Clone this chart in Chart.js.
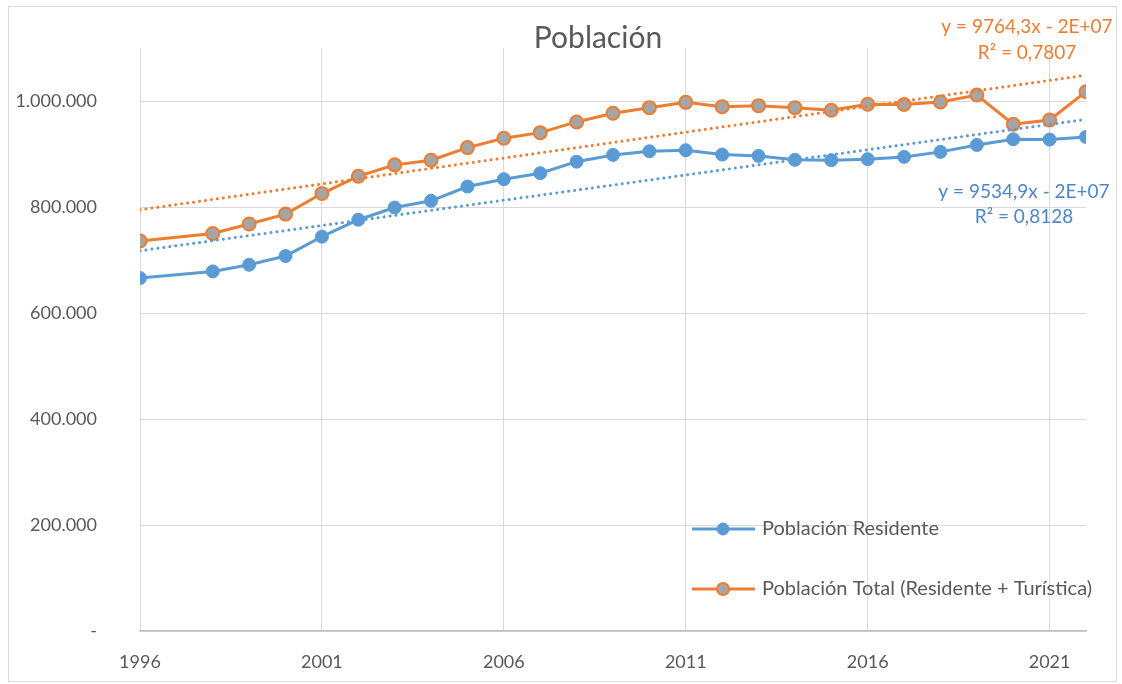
<!DOCTYPE html>
<html lang="es">
<head>
<meta charset="utf-8">
<title>Población</title>
<script src="https://cdn.jsdelivr.net/npm/chart.js@4.4.0/dist/chart.umd.min.js"></script>
<style>
	html, body { margin: 0; padding: 0; background: #fff; }
	#frame { position: absolute; left: 8px; top: 6px; width: 1109px; height: 676px; border: 1px solid #d9d9d9; box-sizing: border-box; }
	#wrap { position: absolute; left: 0; top: 0; width: 1122px; height: 684px; }
</style>
</head>
<body>
<div id="frame"></div>
<div id="wrap"><canvas id="poblacion" width="1122" height="684"></canvas></div>
<script>
	// Años con dato (1997 no tiene padrón)
	var years = [1996, 1998, 1999, 2000, 2001, 2002, 2003, 2004, 2005, 2006, 2007, 2008, 2009,
		2010, 2011, 2012, 2013, 2014, 2015, 2016, 2017, 2018, 2019, 2020, 2021, 2022];

	var residente = [666000, 678500, 691000, 707500, 744000, 776000, 799000, 811700, 838600,
		852500, 863800, 885500, 898300, 905200, 907100, 898900, 896400, 889000, 888300, 890200,
		894500, 904000, 917100, 927800, 927200, 932200];

	var total = [736000, 750000, 768000, 786600, 825400, 858000, 879500, 888300, 912100,
		929700, 940300, 960500, 976800, 987400, 997500, 989300, 991200, 987400, 982500, 993800,
		993500, 998100, 1011300, 956100, 964200, 1017500];

	var yearTicks = [1996, 2001, 2006, 2011, 2016, 2021];
	var valueTicks = [0, 200000, 400000, 600000, 800000, 1000000];

	// Líneas de tendencia (pendiente y R² de Excel)
	var slopeResidente = 9534.9;
	var slopeTotal = 9764.3;
	var eqResidente = ['y = 9534,9x - 2E+07', 'R² = 0,8128'];
	var eqTotal = ['y = 9764,3x - 2E+07', 'R² = 0,7807'];

	var BLUE = '#5B9BD5';
	var ORANGE = '#ED7D31';
	var GREY = '#A5A5A5';
	var TEXT = '#595959';
	var FONT = 'Lato, "Open Sans", sans-serif';

	function toPoints(values) {
		return years.map(function (yr, i) {
			return { x: yr, y: values[i] };
		});
	}

	// recta con la pendiente dada que pasa por el punto medio de la serie
	function trendPoints(values, slope) {
		var mx = 0, my = 0;
		for (var i = 0; i < years.length; i++) {
			mx += years[i];
			my += values[i];
		}
		mx /= years.length;
		my /= years.length;
		var x0 = years[0], x1 = years[years.length - 1];
		return [
			{ x: x0, y: my + slope * (x0 - mx) },
			{ x: x1, y: my + slope * (x1 - mx) },
		];
	}

	function fmtMiles(v) {
		if (v === 0) return '-';
		return String(v).replace(/\B(?=(\d{3})+(?!\d))/g, '.');
	}

	// Título, leyenda interior y ecuaciones de tendencia
	var extras = {
		id: 'extras',
		afterDraw: function (chart) {
			var ctx = chart.ctx;
			var area = chart.chartArea;
			ctx.save();

			ctx.fillStyle = TEXT;
			ctx.font = '30px ' + FONT;
			ctx.textAlign = 'center';
			ctx.textBaseline = 'middle';
			ctx.fillText('Población', 598, 38);

			// ecuaciones
			ctx.font = '19px ' + FONT;
			ctx.fillStyle = ORANGE;
			ctx.fillText(eqTotal[0], area.right - 59, 27);
			ctx.fillText(eqTotal[1], area.right - 59, 53);
			ctx.fillStyle = '#4F86C9';
			ctx.fillText(eqResidente[0], area.right - 62, 192);
			ctx.fillText(eqResidente[1], area.right - 62, 217);

			// leyenda
			var rows = [
				{ ds: chart.data.datasets[2], y: 529 },
				{ ds: chart.data.datasets[3], y: 589 },
			];
			var lx = 692;
			rows.forEach(function (r) {
				ctx.strokeStyle = r.ds.borderColor;
				ctx.lineWidth = 3;
				ctx.beginPath();
				ctx.moveTo(lx, r.y);
				ctx.lineTo(lx + 63, r.y);
				ctx.stroke();
				ctx.beginPath();
				ctx.arc(lx + 31, r.y, 6, 0, Math.PI * 2);
				ctx.fillStyle = r.ds.pointBackgroundColor;
				ctx.fill();
				ctx.lineWidth = r.ds.pointBorderWidth;
				ctx.strokeStyle = r.ds.pointBorderColor;
				ctx.stroke();
				ctx.fillStyle = TEXT;
				ctx.font = '20px ' + FONT;
				ctx.textAlign = 'left';
				ctx.fillText(r.ds.label, lx + 70, r.y);
			});
			ctx.restore();
		},
	};

	var ctx = document.getElementById('poblacion').getContext('2d');
	var chart = new Chart(ctx, {
		type: 'line',
		data: {
			datasets: [
				{
					label: 'Lineal (Población Total)',
					data: trendPoints(total, slopeTotal),
					borderColor: ORANGE,
					borderWidth: 3,
					borderDash: [0.01, 6],
					borderCapStyle: 'round',
					pointRadius: 0,
					order: 0,
				},
				{
					label: 'Lineal (Población Residente)',
					data: trendPoints(residente, slopeResidente),
					borderColor: BLUE,
					borderWidth: 3,
					borderDash: [0.01, 6],
					borderCapStyle: 'round',
					pointRadius: 0,
					order: 0,
				},
				{
					label: 'Población Residente',
					data: toPoints(residente),
					borderColor: BLUE,
					borderWidth: 3,
					pointRadius: 6.5,
					pointBackgroundColor: BLUE,
					pointBorderColor: BLUE,
					pointBorderWidth: 1,
					order: 2,
				},
				{
					label: 'Población Total (Residente + Turística)',
					data: toPoints(total),
					borderColor: ORANGE,
					borderWidth: 3,
					pointRadius: 6.5,
					pointBackgroundColor: GREY,
					pointBorderColor: ORANGE,
					pointBorderWidth: 2,
					order: 1,
				},
			],
		},
		options: {
			responsive: false,
			animation: false,
			layout: { padding: { top: 48, right: 36, bottom: 0, left: 0 } },
			plugins: {
				legend: { display: false },
				title: { display: false },
				tooltip: { enabled: false },
			},
			scales: {
				x: {
					type: 'linear',
					min: 1996,
					max: 2022,
					afterBuildTicks: function (scale) {
						scale.ticks = yearTicks.map(function (v) { return { value: v }; });
					},
					afterFit: function (scale) {
						scale.height = 53;
					},
					grid: { color: '#D9D9D9', lineWidth: 1, drawTicks: false },
					border: { color: '#BFBFBF', width: 1.5 },
					ticks: {
						color: TEXT,
						font: { family: FONT, size: 18 },
						padding: 20,
						maxRotation: 0,
						callback: function (v) { return String(v); },
					},
				},
				y: {
					min: 0,
					max: 1100000,
					afterBuildTicks: function (scale) {
						scale.ticks = valueTicks.map(function (v) { return { value: v }; });
					},
					afterFit: function (scale) {
						// ancho fijo y sin reservar hueco vertical para las etiquetas
						scale.width = 140;
						scale.paddingTop = 0;
						scale.paddingBottom = 0;
					},
					grid: { color: '#D9D9D9', lineWidth: 1, drawTicks: false },
					border: { display: false },
					ticks: {
						color: TEXT,
						font: { family: FONT, size: 18 },
						padding: 43,
						callback: fmtMiles,
					},
				},
			},
		},
		plugins: [extras],
	});
</script>
</body>
</html>
